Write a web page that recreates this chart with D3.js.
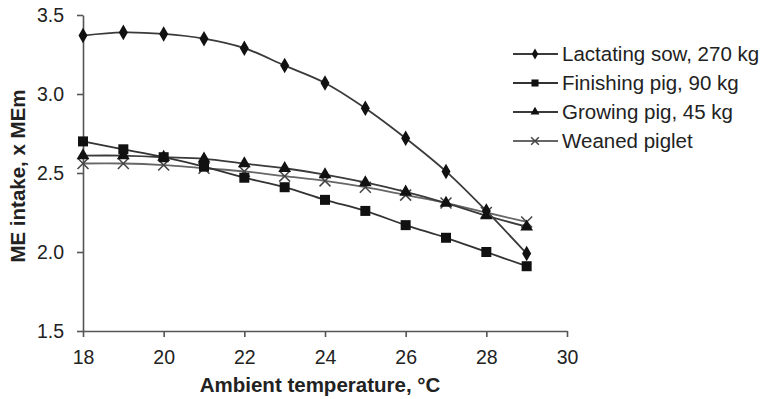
<!DOCTYPE html>
<html>
<head>
<meta charset="utf-8">
<script src="https://cdn.jsdelivr.net/npm/d3@7"></script>
<style>
  body { margin: 0; background: #fff; }
  svg { font-family: "Liberation Sans", Arial, sans-serif; }
  .tick text { font-size: 19.5px; fill: #222; }
  .domain, .tick line { stroke: #555; stroke-width: 1.6; }
</style>
</head>
<body>
<svg id="chart" width="768" height="399"></svg>
<script>
// temperatures, °C
const temps = [18, 19, 20, 21, 22, 23, 24, 25, 26, 27, 28, 29];

// ME intake, x MEm
const lactatingSow = [3.37, 3.39, 3.38, 3.35, 3.29, 3.18, 3.07, 2.91, 2.72, 2.51, 2.26, 1.99];
const finishingPig = [2.70, 2.65, 2.60, 2.54, 2.47, 2.41, 2.33, 2.26, 2.17, 2.09, 2.00, 1.91];
const growingPig   = [2.61, 2.61, 2.60, 2.59, 2.56, 2.53, 2.49, 2.44, 2.38, 2.31, 2.23, 2.16];
const weanedPiglet = [2.56, 2.56, 2.55, 2.53, 2.51, 2.48, 2.45, 2.41, 2.36, 2.31, 2.25, 2.19];

const seriesNames = ["Lactating sow, 270 kg", "Finishing pig, 90 kg", "Growing pig, 45 kg", "Weaned piglet"];
const xTicks = [18, 20, 22, 24, 26, 28, 30];
const yTicks = [1.5, 2.0, 2.5, 3.0, 3.5];

const series = [
  { name: seriesNames[0], values: lactatingSow, symbol: d3.symbolDiamond, size: 70, line: "#3a3a3a" },
  { name: seriesNames[1], values: finishingPig, symbol: d3.symbolSquare, size: 100, line: "#333" },
  { name: seriesNames[2], values: growingPig, symbol: d3.symbolTriangle, size: 70, line: "#3a3a3a" },
  { name: seriesNames[3], values: weanedPiglet, symbol: d3.symbolCross, size: 80, line: "#666", cross: true }
];

const svg = d3.select("#chart");
const x = d3.scaleLinear().domain([18, 30]).range([83, 567]);
const y = d3.scaleLinear().domain([1.5, 3.5]).range([331, 15]);

svg.append("g").attr("transform", "translate(0,331)")
  .call(d3.axisBottom(x).tickValues(xTicks).tickSize(6).tickSizeOuter(0).tickPadding(13)
    .tickFormat(d3.format("d")));
svg.append("g").attr("transform", "translate(83,0)")
  .call(d3.axisLeft(y).tickValues(yTicks).tickSize(6).tickSizeOuter(0).tickPadding(13)
    .tickFormat(d3.format(".1f")));

svg.append("text").attr("x", 320).attr("y", 391.5).attr("text-anchor", "middle")
  .attr("font-size", 20.5).attr("font-weight", "bold").attr("fill", "#222")
  .text("Ambient temperature, °C");
svg.append("text").attr("transform", "translate(25,176) rotate(-90)").attr("text-anchor", "middle")
  .attr("font-size", 20.5).attr("font-weight", "bold").attr("fill", "#222")
  .text("ME intake, x MEm");

const line = d3.line().x((d, i) => x(temps[i])).y(d => y(d)).curve(d3.curveCatmullRom);

function marker(sel, s, scale) {
  if (s.cross) {
    sel.attr("d", d3.symbol().type(d3.symbolX).size(s.size * scale))
      .attr("fill", "none").attr("stroke", "#444").attr("stroke-width", 1.5);
  } else {
    sel.attr("d", d3.symbol().type(s.symbol).size(s.size * scale)).attr("fill", "#111");
  }
}

// draw weaned first so others sit on top
series.slice().reverse().forEach(s => {
  const g = svg.append("g");
  g.append("path").attr("d", line(s.values)).attr("fill", "none")
    .attr("stroke", s.line).attr("stroke-width", 1.8);
  g.selectAll("path.m").data(s.values).enter().append("path").attr("class", "m")
    .attr("transform", (d, i) => `translate(${x(temps[i])},${y(d)})`)
    .call(marker, s, 1);
});

// legend
const leg = svg.append("g");
series.forEach((s, i) => {
  const ly = 54 + i * 29;
  leg.append("line").attr("x1", 513).attr("x2", 558).attr("y1", ly).attr("y2", ly)
    .attr("stroke", s.line).attr("stroke-width", 1.8);
  leg.append("path").attr("transform", `translate(535,${ly})`).call(marker, s, 0.5);
  leg.append("text").attr("x", 562).attr("y", ly).attr("dy", "0.35em")
    .attr("font-size", 20.5).attr("fill", "#222").text(s.name);
});
</script>
</body>
</html>
